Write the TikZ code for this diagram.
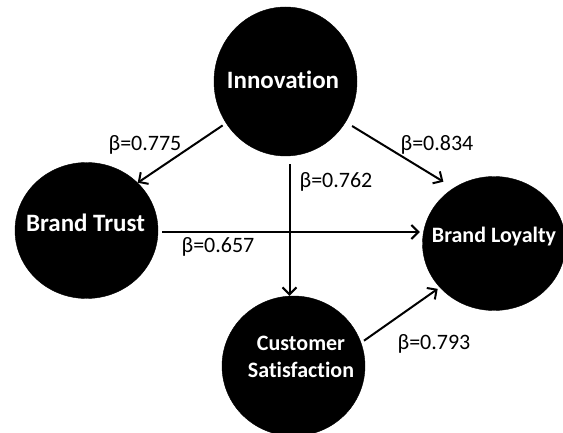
\documentclass[tikz,border=0pt]{standalone}
\usepackage{fontspec}
\setmainfont{Carlito}[Ligatures=NoCommon]
\usetikzlibrary{arrows.meta,shapes.geometric}

\begin{document}
\begin{tikzpicture}[x=1pt,y=1pt,>={Straight Barb[length=7pt,width=14pt]},
  main node/.style={ellipse,fill=black,draw=black,inner sep=0pt,minimum width=143pt},
  node text/.style={text=white,font=\bfseries\fontsize{25}{27}\selectfont,align=center},
  beta/.style={font=\fontsize{22}{24}\selectfont},
  path/.style={->,line width=2pt}]
  \useasboundingbox (0,0) rectangle (563,432);

  % the four constructs
  \node[main node,minimum height=149pt] (inn) at (285.5,350.5) {};
  \node[main node,minimum height=136pt] (trust) at (86.5,201.5) {};
  \node[main node,minimum height=134pt] (loyal) at (494,188.5) {};
  \node[main node,minimum height=140pt] (cs) at (293.5,66) {};

  \node[node text] (inn-t) at ([shift={(-2.5,1.5)}]inn) {Innovation};
  \node[node text] (trust-t) at ([shift={(-1,7.5)}]trust) {Brand Trust};
  \node[node text,font=\bfseries\fontsize{22}{24}\selectfont] (loyal-t) at ([yshift=6.5]loyal) {Brand Loyalty};
  \node[node text,font=\bfseries\fontsize{22}{27}\selectfont] (cs-t) at ([shift={(7.5,9.5)}]cs) {Customer\\Satisfaction};

  % paths
  \draw[path,shorten <=4pt] (inn.215) -- (trust.43);
  \draw[path,shorten <=7.5pt,shorten >=12pt] (inn.-34) -- (loyal.126);
  \draw[path,shorten <=8pt] ([xshift=4]inn.south) -- ([xshift=-4]cs.north);
  \draw[path,shorten <=4pt,shorten >=2.5pt] ([yshift=-1.5]trust.east) -- ([yshift=-1.5]trust.east -| loyal.west);
  \draw[path,shorten <=3.5pt,shorten >=2.5pt] (cs.19.5) -- (loyal.219);

  % coefficients
  \node[beta] (b1) at (145,287) {β=0.775};
  \node[beta] (b2) at (437,287) {β=0.834};
  \node[beta] (b3) at (336,250) {β=0.762};
  \node[beta] (b4) at (218,185) {β=0.657};
  \node[beta] (b5) at (434,88) {β=0.793};
\end{tikzpicture}
\end{document}
